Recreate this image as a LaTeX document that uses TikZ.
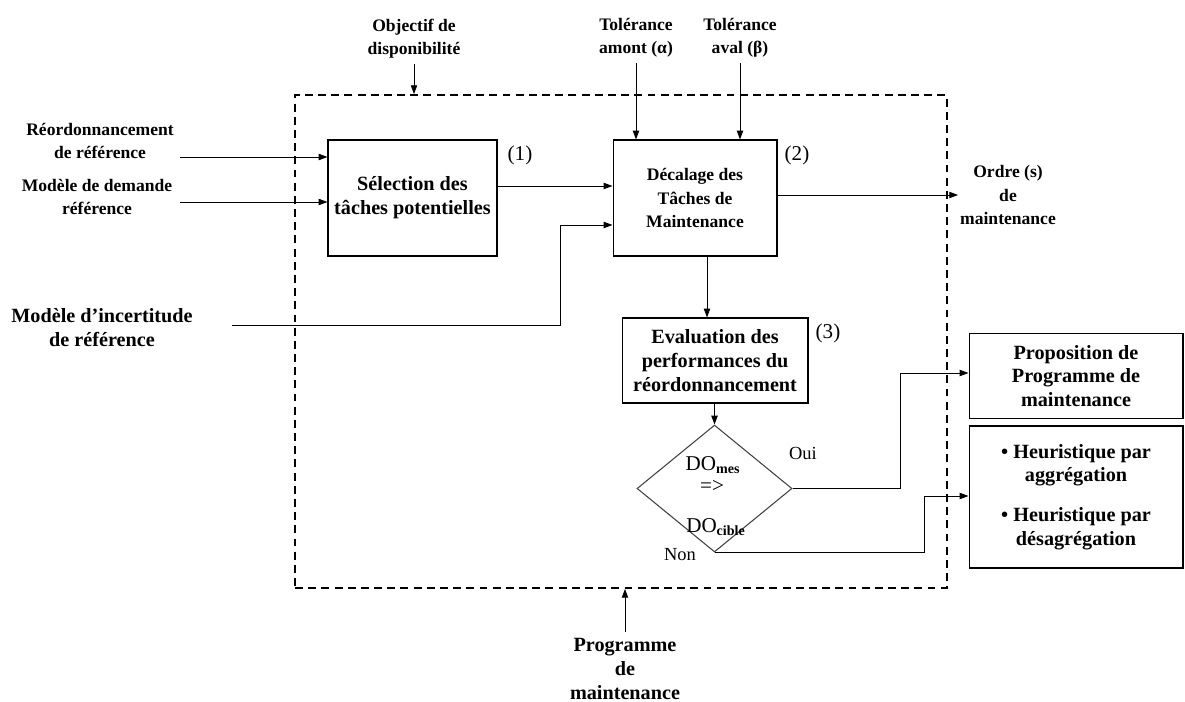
\documentclass[tikz,border=0pt]{standalone}
\usepackage{fontspec}
\setmainfont{Liberation Serif}
\usetikzlibrary{arrows.meta,calc,positioning,shapes.geometric}

\begin{document}
\begin{tikzpicture}[x=.02cm,y=-.02cm,
    txt/.style={font=\bfseries\fontsize{10}{13.3}\selectfont,align=center},
    txtbig/.style={font=\bfseries\fontsize{11.5}{13.6}\selectfont,align=center},
    blk/.style={draw,line width=.6pt},
    num/.style={font=\fontsize{12}{14}\selectfont},
    plain/.style={font=\fontsize{10.5}{12}\selectfont},
    arr/.style={-{Triangle[length=5pt,width=3.6pt]},line width=.5pt}]
  \useasboundingbox(0,0)rectangle(1185,702);
  \node[draw,line width=1.1pt,dash pattern=on 4.5pt off 3pt,minimum width=13.04cm,minimum height=9.86cm](frame)at(621,341.5){};
  \node[blk,txtbig,minimum width=3.38cm,minimum height=2.32cm](sel)at(412.5,198){Sélection des\\tâches potentielles};
  \node[blk,txt,minimum width=3.28cm,minimum height=2.32cm](dec)at(695,198){Décalage des\\Tâches de\\Maintenance};
  \node[blk,txtbig,minimum width=3.72cm,minimum height=1.7cm](eval)at(715,360.5){Evaluation des\\performances du\\réordonnancement};
  \node[draw=black!75,line width=.6pt,diamond,minimum width=3.1cm,minimum height=2.54cm,inner sep=0](dia)at(714.5,488.5){};
  \node[blk,txtbig,minimum width=4.28cm,minimum height=1.7cm](prop)at(1076,376){Proposition de\\Programme de\\maintenance};
  \node[blk,txtbig,minimum width=4.28cm,minimum height=2.84cm](heur)at(1076,497){• Heuristique par\\aggrégation\\[9pt]• Heuristique par\\désagrégation};
  \node[num](n1)at(520,155){(1)};
  \node[num](n2)at(797,155){(2)};
  \node[num](n3)at(828,333){(3)};
  \node[font=\fontsize{12}{14}\selectfont](dom)at(713,465){DO\textsubscript{\textbf{mes}}};
  \node[font=\fontsize{12}{14}\selectfont](eq)at(712,486){=>};
  \node[font=\fontsize{12}{14}\selectfont](doc)at(716,527){DO\textsubscript{\textbf{cible}}};
  \node[plain](oui)at(803,453){Oui};
  \node[plain](non)at(680,555){Non};
  \node[txt](obj)at(414,38.5){Objectif de\\disponibilité};
  \node[txt](amont)at(636,37.5){Tolérance\\amont (α)};
  \node[txt](aval)at(740,37.5){Tolérance\\aval (β)};
  \node[txt](reo)at(100,141){Réordonnancement\\de référence};
  \node[txt](dem)at(97,197){Modèle de demande\\référence};
  \node[txtbig](inc)at(102,328){Modèle d’incertitude\\de référence};
  \node[txt,inner sep=1pt](ordre)at(1008,195){Ordre (s)\\de\\maintenance};
  \node[txtbig](prog)at(625,669){Programme\\de\\maintenance};
  \coordinate(in1)at(180,157);
  \coordinate(in2)at(180,202);
  \coordinate(in3)at(232,325);
  \coordinate(k1)at(560,225);
  \coordinate(k2)at(707,0);
  \coordinate(k3)at(900,373);
  \coordinate(k4)at(924,496);
  \draw[arr](obj.south)--(obj.south|-frame.north);
  \draw[arr](amont.south)--(amont.south|-dec.north);
  \draw[arr](aval.south)--(aval.south|-dec.north);
  \draw[arr](in1)--(in1-|sel.west);
  \draw[arr](in2)--(in2-|sel.west);
  \draw[arr](in3)-|(k1)--(k1-|dec.west);
  \draw[arr](sel.east|-0,186)--(dec.west|-0,186);
  \draw[arr](dec.east|-ordre)--(ordre.west);
  \draw[arr](dec.south-|k2)--(eval.north-|k2);
  \draw[arr](eval.south-|dia.north)--(dia.north);
  \draw[arr](dia.east)-|(k3)--(k3-|prop.west);
  \draw[arr](dia.south)-|(k4)--(k4-|heur.west);
  \draw[arr](prog.north)--(prog.north|-frame.south);
\end{tikzpicture}
\end{document}
